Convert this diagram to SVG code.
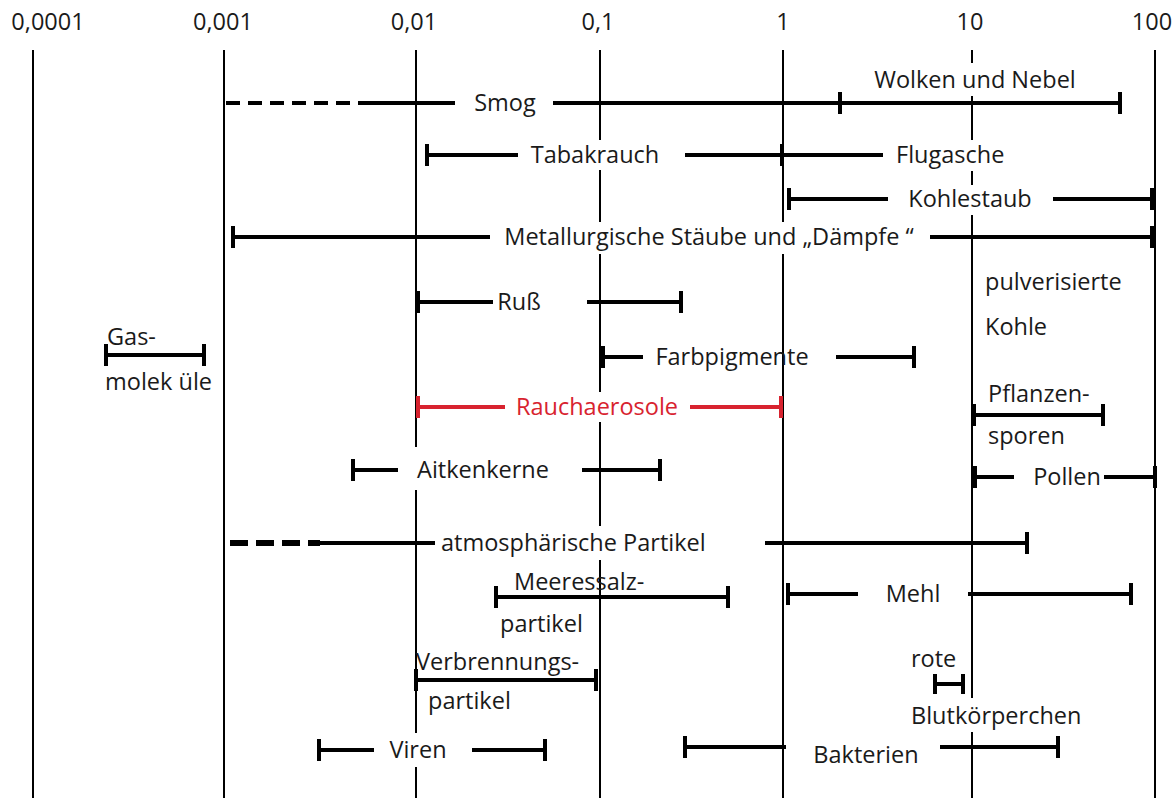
<svg xmlns="http://www.w3.org/2000/svg" width="1175" height="798" viewBox="0 0 1175 798">
  <style>
    .grid { stroke: #000; stroke-width: 2; fill: none; }
    .bar { stroke: #000; stroke-width: 4; fill: none; }
    .tick { stroke: #000; stroke-width: 4; fill: none; }
    .red .bar, .red .tick { stroke: #d8232f; }
    .dash1 { stroke: #000; stroke-width: 4; stroke-dasharray: 14 8; fill: none; }
    .dash2 { stroke: #000; stroke-width: 6; stroke-dasharray: 18 8; fill: none; }
    .bg { fill: #fff; }
    text { font-family: "Open Sans", "Noto Sans", "Liberation Sans", sans-serif; font-size: 23.5px; fill: #1a1a1a; }
    .red text { fill: #d8232f; }
    .mid { text-anchor: middle; }
  </style>
  <rect width="1175" height="798" fill="#fff"/>

  <!-- scale: decade lines and their labels -->
  <g id="scale">
    <path class="grid" d="M33 50V798M224 50V798M416 50V798M600 50V798M783 50V798M972 50V798M1155 50V798"/>
    <text class="mid" x="48" y="30">0,0001</text>
    <text class="mid" x="223" y="30">0,001</text>
    <text class="mid" x="414" y="30">0,01</text>
    <text class="mid" x="598" y="30">0,1</text>
    <text class="mid" x="783" y="30">1</text>
    <text class="mid" x="970" y="30">10</text>
    <text class="mid" x="1152" y="30">100</text>
  </g>

  <!-- white backing behind labels that interrupt the decade lines -->
  <g id="label-backing">
    <rect class="bg" x="860" y="63" width="230" height="33"/>
    <rect class="bg" x="522" y="140" width="160" height="30"/>
    <rect class="bg" x="890" y="140" width="124" height="31"/>
    <rect class="bg" x="892" y="185" width="158" height="30"/>
    <rect class="bg" x="493" y="222" width="432" height="32"/>
    <rect class="bg" x="508" y="392" width="180" height="30"/>
    <rect class="bg" x="406" y="447" width="172" height="43"/>
    <rect class="bg" x="436" y="526" width="326" height="34"/>
    <rect class="bg" x="905" y="698" width="182" height="34"/>
    <rect class="bg" x="380" y="733" width="88" height="34"/>
  </g>

  <!-- size ranges -->
  <g id="connectors">
    <g id="smog">
      <path class="dash1" d="M226 103H372"/>
      <path class="bar" d="M372 103H455M553 103H840"/>
      <text class="mid" x="505" y="111">Smog</text>
    </g>
    <g id="wolken">
      <path class="bar" d="M840 103H1120"/>
      <path class="tick" d="M840 92V114M1120 92V114"/>
      <text class="mid" x="975" y="88">Wolken und Nebel</text>
    </g>
    <g id="tabakrauch">
      <path class="bar" d="M427 155H518M685 155H782"/>
      <path class="tick" d="M427 144V166M782 144V166"/>
      <text class="mid" x="595" y="163">Tabakrauch</text>
    </g>
    <g id="flugasche">
      <path class="bar" d="M782 155H883"/>
      <text x="896" y="163">Flugasche</text>
    </g>
    <g id="kohlestaub">
      <path class="bar" d="M789 199H888M1053 199H1152"/>
      <path class="tick" d="M789 188V210M1152 188V210"/>
      <text class="mid" x="970" y="207">Kohlestaub</text>
    </g>
    <g id="metallurgie">
      <path class="bar" d="M233 237H490M930 237H1152"/>
      <path class="tick" d="M233 226V248M1152 226V248"/>
      <text class="mid" x="709" y="245">Metallurgische Stäube und „Dämpfe “</text>
    </g>
    <g id="russ">
      <path class="bar" d="M418 302H493M587 302H681"/>
      <path class="tick" d="M418 291V313M681 291V313"/>
      <text class="mid" x="519" y="310">Ruß</text>
    </g>
    <g id="kohle">
      <text x="985" y="290">pulverisierte</text>
      <text x="985" y="335">Kohle</text>
    </g>
    <g id="gasmolekuele">
      <path class="bar" d="M106 355H204"/>
      <path class="tick" d="M106 344V366M204 344V366"/>
      <text x="107" y="345">Gas-</text>
      <text x="105" y="390">molek üle</text>
    </g>
    <g id="farbpigmente">
      <path class="bar" d="M603 357H643M836 357H914"/>
      <path class="tick" d="M603 346V368M914 346V368"/>
      <text class="mid" x="732" y="365">Farbpigmente</text>
    </g>
    <g id="rauchaerosole" class="red">
      <path class="bar" d="M418 407H505M690 407H781"/>
      <path class="tick" d="M418 396V418M781 396V418"/>
      <text class="mid" x="597" y="415">Rauchaerosole</text>
    </g>
    <g id="pflanzensporen">
      <path class="bar" d="M974 415H1103"/>
      <path class="tick" d="M974 404V426M1103 404V426"/>
      <text x="988" y="402">Pflanzen-</text>
      <text x="988" y="444">sporen</text>
    </g>
    <g id="aitkenkerne">
      <path class="bar" d="M353 470H398M582 470H660"/>
      <path class="tick" d="M353 459V481M660 459V481"/>
      <text class="mid" x="483" y="478">Aitkenkerne</text>
    </g>
    <g id="pollen">
      <path class="bar" d="M975 477H1014M1104 477H1155"/>
      <path class="tick" d="M975 466V488M1155 466V488"/>
      <text class="mid" x="1067" y="485">Pollen</text>
    </g>
    <g id="atmosphaere">
      <path class="dash2" d="M230 543H320"/>
      <path class="bar" d="M320 543H435M765 543H1027"/>
      <path class="tick" d="M1027 532V554"/>
      <text x="441" y="551">atmosphärische Partikel</text>
    </g>
    <g id="meeressalz">
      <path class="bar" d="M496 597H728"/>
      <path class="tick" d="M496 586V608M728 586V608"/>
      <text x="514" y="590">Meeressalz-</text>
      <text x="500" y="632">partikel</text>
    </g>
    <g id="mehl">
      <path class="bar" d="M788 594H858M968 594H1131"/>
      <path class="tick" d="M788 583V605M1131 583V605"/>
      <text class="mid" x="913" y="602">Mehl</text>
    </g>
    <g id="verbrennung">
      <path class="bar" d="M416 680H596"/>
      <path class="tick" d="M416 669V691M596 669V691"/>
      <text x="416" y="670">Verbrennungs-</text>
      <text x="428" y="709">partikel</text>
    </g>
    <g id="blutkoerperchen">
      <path class="bar" d="M935 684H963"/>
      <path class="tick" d="M935 674V694M963 674V694"/>
      <text x="911" y="667">rote</text>
      <text x="911" y="724">Blutkörperchen</text>
    </g>
    <g id="viren">
      <path class="bar" d="M319 750H374M472 750H545"/>
      <path class="tick" d="M319 739V761M545 739V761"/>
      <text class="mid" x="418" y="758">Viren</text>
    </g>
    <g id="bakterien">
      <path class="bar" d="M685 747H786M940 747H1058"/>
      <path class="tick" d="M685 736V758M1058 736V758"/>
      <text class="mid" x="866" y="763">Bakterien</text>
    </g>
  </g>
</svg>
